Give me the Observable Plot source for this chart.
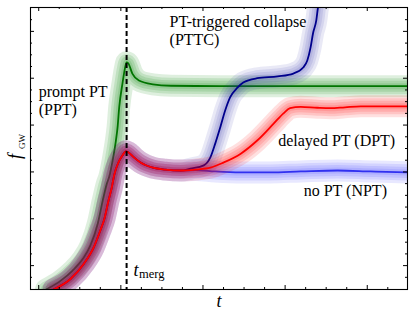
<!DOCTYPE html>
<html><head><meta charset="utf-8">
<script src="https://cdn.jsdelivr.net/npm/d3@7"></script>
<script src="https://cdn.jsdelivr.net/npm/@observablehq/plot@0.6"></script>
<style>body{margin:0;background:#fff} svg{display:block}</style>
</head><body><div id="chart"></div>
<script>
// prompt PT (PPT)
const tPPT = [0.09, 0.27, 0.41, 0.54, 0.63, 0.72, 0.78, 0.83, 0.86, 0.90, 0.94, 0.96, 0.98, 1.02, 1.05, 1.07, 1.09, 1.14, 1.22, 1.39, 1.61, 2.21, 3.19, 4.49];
const fPPT = [-0.51, -0.32, -0.11, 0.15, 0.43, 0.90, 1.39, 1.75, 1.90, 2.24, 2.67, 2.95, 3.38, 3.89, 4.21, 4.34, 4.32, 4.10, 3.95, 3.87, 3.84, 3.83, 3.83, 3.83];
// delayed PT (DPT)
const tDPT = [0.18, 0.39, 0.55, 0.67, 0.75, 0.80, 0.85, 0.89, 0.92, 0.97, 1.02, 1.06, 1.09, 1.16, 1.24, 1.39, 1.54, 1.73, 1.91, 2.09, 2.25, 2.46, 2.66, 2.86, 2.98, 3.06, 3.19, 3.39, 3.55, 3.73, 3.92, 4.16, 4.49];
const fDPT = [-0.51, -0.28, 0.04, 0.39, 0.75, 1.00, 1.39, 1.67, 1.94, 2.20, 2.35, 2.44, 2.42, 2.31, 2.20, 2.09, 2.05, 2.03, 2.05, 2.09, 2.20, 2.39, 2.67, 3.03, 3.25, 3.36, 3.39, 3.37, 3.36, 3.38, 3.40, 3.40, 3.40];
// no PT (NPT)
const tNPT = [0.18, 0.39, 0.55, 0.67, 0.75, 0.80, 0.85, 0.89, 0.92, 0.97, 1.02, 1.06, 1.09, 1.16, 1.24, 1.39, 1.54, 1.73, 1.91, 2.15, 2.46, 2.82, 3.19, 3.64, 4.04, 4.49];
const fNPT = [-0.51, -0.28, 0.04, 0.39, 0.75, 1.00, 1.39, 1.67, 1.94, 2.20, 2.35, 2.44, 2.42, 2.31, 2.20, 2.09, 2.05, 2.03, 2.04, 2.01, 1.99, 1.99, 2.01, 2.03, 2.01, 1.99];
// PT-triggered collapse (PTTC)
const tPTTC = [0.18, 0.39, 0.55, 0.67, 0.75, 0.80, 0.85, 0.89, 0.92, 0.97, 1.02, 1.06, 1.09, 1.16, 1.24, 1.39, 1.54, 1.73, 1.85, 2.01, 2.09, 2.15, 2.21, 2.27, 2.33, 2.42, 2.49, 2.66, 2.91, 3.10, 3.22, 3.27, 3.31, 3.34, 3.38, 3.40, 3.43];
const fPTTC = [-0.51, -0.28, 0.04, 0.39, 0.75, 1.00, 1.39, 1.67, 1.94, 2.20, 2.35, 2.44, 2.42, 2.31, 2.20, 2.09, 2.05, 2.03, 2.07, 2.14, 2.31, 2.61, 2.95, 3.31, 3.59, 3.80, 3.91, 4.00, 4.04, 4.10, 4.23, 4.38, 4.66, 4.96, 5.24, 5.51, 5.73];
// merger time
const tMerg = [1.07];
// tick positions (no labels)
const xMajor = [0, 1, 2, 3, 4];
const xMinor = [0.25, 0.5, 0.75, 1.25, 1.5, 1.75, 2.25, 2.5, 2.75, 3.25, 3.5, 3.75, 4.25];
const yMajor = [0, 1, 2, 3, 4, 5];
const yMinor = [-0.25, 0.25, 0.5, 0.75, 1.25, 1.5, 1.75, 2.25, 2.5, 2.75, 3.25, 3.5, 3.75, 4.25, 4.5, 4.75, 5.25];

const zip = (t, f) => t.map((x, i) => ({t: x, f: f[i]}));
const PPT = zip(tPPT, fPPT), DPT = zip(tDPT, fDPT), NPT = zip(tNPT, fNPT), PTTC = zip(tPTTC, fPTTC);

const W = 415, H = 318, mL = 30, mR = 8, mT = 7, mB = 29;
const pw = W - mL - mR, ph = H - mT - mB;

function glow(data, band, line, op) {
  const common = {x: "t", y: "f", curve: "monotone-x", strokeLinecap: "round", strokeLinejoin: "round", clip: true};
  return [
    ...[22, 16, 11, 6].map(w => Plot.line(data, {...common, stroke: band, strokeWidth: w, strokeOpacity: op})),
    Plot.line(data, {...common, stroke: line, strokeWidth: 1.8})
  ];
}

const serif = "'Liberation Serif', 'Times New Roman', serif";
const T = (s, o) => Plot.text([s], {text: d => d, lineAnchor: "bottom", fontFamily: serif, fontSize: 16, ...o});
const chart = Plot.plot({
  width: W, height: H,
  marginLeft: mL, marginRight: mR, marginTop: mT, marginBottom: mB,
  x: {domain: [-0.1, 4.49], axis: null},
  y: {domain: [-0.51, 5.51], axis: null},
  style: {fontFamily: serif, background: "white", color: "black"},
  marks: [
    ...glow(PPT, "#008000", "#007400", 0.13),
    ...glow(NPT, "#2020ff", "#3030f0", 0.1),
    ...glow(PTTC, "#2828a8", "#00008c", 0.1),
    ...glow(DPT, "#ff0000", "#ff0000", 0.12),
    Plot.ruleX(tMerg, {stroke: "black", strokeWidth: 2, strokeDasharray: "5,3"}),
    Plot.frame({stroke: "black", strokeWidth: 1.1}),
    Plot.ruleX(xMajor, {insetTop: ph - 4, stroke: "black"}),
    Plot.ruleX(xMinor, {insetTop: ph - 2, stroke: "black"}),
    Plot.ruleX(xMajor, {insetBottom: ph - 4, stroke: "black"}),
    Plot.ruleX(xMinor, {insetBottom: ph - 2, stroke: "black"}),
    Plot.ruleY(yMajor, {insetRight: pw - 4, stroke: "black"}),
    Plot.ruleY(yMinor, {insetRight: pw - 2, stroke: "black"}),
    Plot.ruleY(yMajor, {insetLeft: pw - 4, stroke: "black"}),
    Plot.ruleY(yMinor, {insetLeft: pw - 2, stroke: "black"}),
    T("prompt PT", {x: 0, y: 3.59, textAnchor: "start"}),
    T("(PPT)", {x: 0, y: 3.205, textAnchor: "start"}),
    T("PT-triggered collapse", {x: 1.593, y: 5.085, textAnchor: "start"}),
    T("(PTTC)", {x: 1.593, y: 4.70, textAnchor: "start"}),
    T("delayed PT (DPT)", {x: 4.34, y: 2.543, textAnchor: "end"}),
    T("no PT (NPT)", {x: 4.24, y: 1.496, textAnchor: "end"}),
    T("t", {x: 1.155, y: -0.214, textAnchor: "start", fontSize: 18, fontStyle: "italic"}),
    T("merg", {x: 1.222, y: -0.256, textAnchor: "start", fontSize: 12.5}),
    T("t", {frameAnchor: "bottom", dy: 17, fontSize: 18, fontStyle: "italic"}),
    T("f", {frameAnchor: "left", dx: -10, dy: 8, rotate: -90, textAnchor: "middle", fontSize: 18, fontStyle: "italic"}),
    T("GW", {frameAnchor: "left", dx: -6, dy: -7, rotate: -90, textAnchor: "middle", fontSize: 9})
  ]
});
document.getElementById("chart").append(chart);
</script>
</body></html>
